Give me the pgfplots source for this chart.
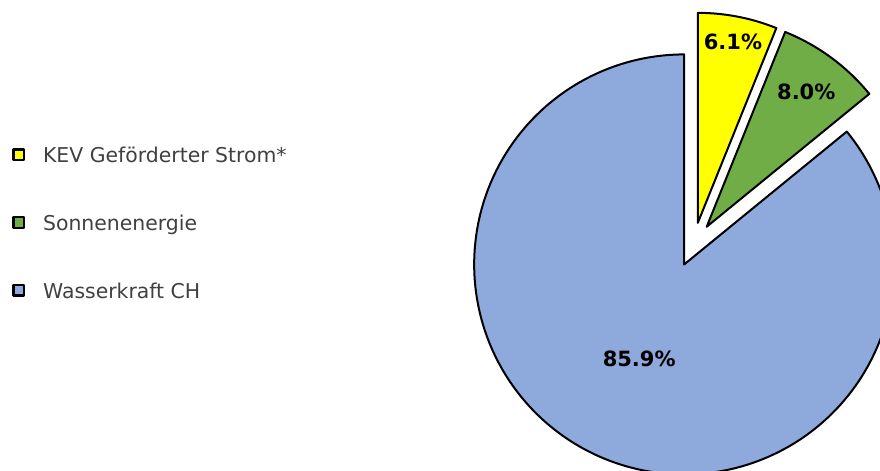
\documentclass[border=0pt]{standalone}
\usepackage{fontspec}
\setmainfont{DejaVu Sans}
\usepackage{pgfplots}
\pgfplotsset{compat=1.18}
\usepackage{pgfplotstable}
\definecolor{kev}{HTML}{FFFF00}
\definecolor{sonne}{HTML}{70AD47}
\definecolor{wasser}{HTML}{8EA9DB}
\definecolor{legtext}{HTML}{404040}

\begin{document}
\begin{tikzpicture}
\pgfplotstableread{
value lr
6.1 0.88
8.0 0.80
85.9 0.50
}\piedata
\pgfplotstablegetelem{0}{value}\of\piedata\let\vA\pgfplotsretval
\pgfplotstablegetelem{1}{value}\of\piedata\let\vB\pgfplotsretval
\pgfplotstablegetelem{2}{value}\of\piedata\let\vC\pgfplotsretval
\pgfplotstablegetelem{0}{lr}\of\piedata\let\rA\pgfplotsretval
\pgfplotstablegetelem{1}{lr}\of\piedata\let\rB\pgfplotsretval
\pgfplotstablegetelem{2}{lr}\of\piedata\let\rC\pgfplotsretval
\pgfmathsetmacro\total{\vA+\vB+\vC}
\pgfmathsetmacro\aA{90}
\pgfmathsetmacro\aB{\aA-(\vA/\total)*360}
\pgfmathsetmacro\aC{\aB-(\vB/\total)*360}
\pgfmathsetmacro\aD{\aC-(\vC/\total)*360}
\pgfmathsetmacro\mA{(\aA+\aB)/2}
\pgfmathsetmacro\mB{(\aB+\aC)/2}
\pgfmathsetmacro\mC{(\aC+\aD)/2}
\def\ex{0.105}
\pgfmathsetmacro\dxA{\ex*cos(\mA)}\pgfmathsetmacro\dyA{\ex*sin(\mA)}
\pgfmathsetmacro\dxB{\ex*cos(\mB)}\pgfmathsetmacro\dyB{\ex*sin(\mB)}
\pgfmathsetmacro\dxC{\ex*cos(\mC)}\pgfmathsetmacro\dyC{\ex*sin(\mC)}
\pgfmathsetmacro\lxA{\dxA+\rA*cos(\mA)}\pgfmathsetmacro\lyA{\dyA+\rA*sin(\mA)}
\pgfmathsetmacro\lxB{\dxB+\rB*cos(\mB)}\pgfmathsetmacro\lyB{\dyB+\rB*sin(\mB)}
\pgfmathsetmacro\lxC{\dxC+\rC*cos(\mC)}\pgfmathsetmacro\lyC{\dyC+\rC*sin(\mC)}
\begin{axis}[
  scale only axis, width=440pt, height=235pt,
  xmin=-3.3029, xmax=0.8876, ymin=-1.0738, ymax=1.1643,
  hide axis, clip=true,
  legend cell align=left,
  legend style={at={(rel axis cs:0.0133,0.5266)}, anchor=west, draw=none, fill=none,
    inner sep=0pt, row sep=23.7pt, font=\fontsize{10.2}{12}\selectfont, text=legtext,
    nodes={inner sep=0pt, text height=9pt, text depth=1.2pt}},
  legend image code/.code={\draw[#1, line width=1.2pt] (0.6pt,-2.65pt) rectangle (5.9pt,2.65pt); \path[draw=none,fill=none] (0pt,0pt) -- (15.5pt,0pt);},
]
\coordinate (BL) at (rel axis cs:0,0);
\coordinate (TR) at (rel axis cs:1,1);
\addplot[draw=black, line width=1pt, line join=round, fill=kev, domain=\aB:\aA, samples=40, variable=\t]
  ({\dxA+cos(\t)},{\dyA+sin(\t)}) -- (axis cs:\dxA,\dyA) -- cycle;
\addlegendentry{KEV Geförderter Strom*}
\addplot[draw=black, line width=1pt, line join=round, fill=sonne, domain=\aC:\aB, samples=40, variable=\t]
  ({\dxB+cos(\t)},{\dyB+sin(\t)}) -- (axis cs:\dxB,\dyB) -- cycle;
\addlegendentry{Sonnenenergie}
\addplot[draw=black, line width=1pt, line join=round, fill=wasser, domain=\aD:\aC, samples=250, variable=\t]
  ({\dxC+cos(\t)},{\dyC+sin(\t)}) -- (axis cs:\dxC,\dyC) -- cycle;
\addlegendentry{Wasserkraft CH}
\node[font=\bfseries\fontsize{10.5}{12}\selectfont] at (axis cs:\lxA,\lyA) {\vA\%};
\node[font=\bfseries\fontsize{10.5}{12}\selectfont] at (axis cs:\lxB,\lyB) {\vB\%};
\node[font=\bfseries\fontsize{10.5}{12}\selectfont] at (axis cs:\lxC,\lyC) {\vC\%};
\end{axis}
\pgfresetboundingbox
\useasboundingbox (BL) rectangle (TR);
\end{tikzpicture}
\end{document}
